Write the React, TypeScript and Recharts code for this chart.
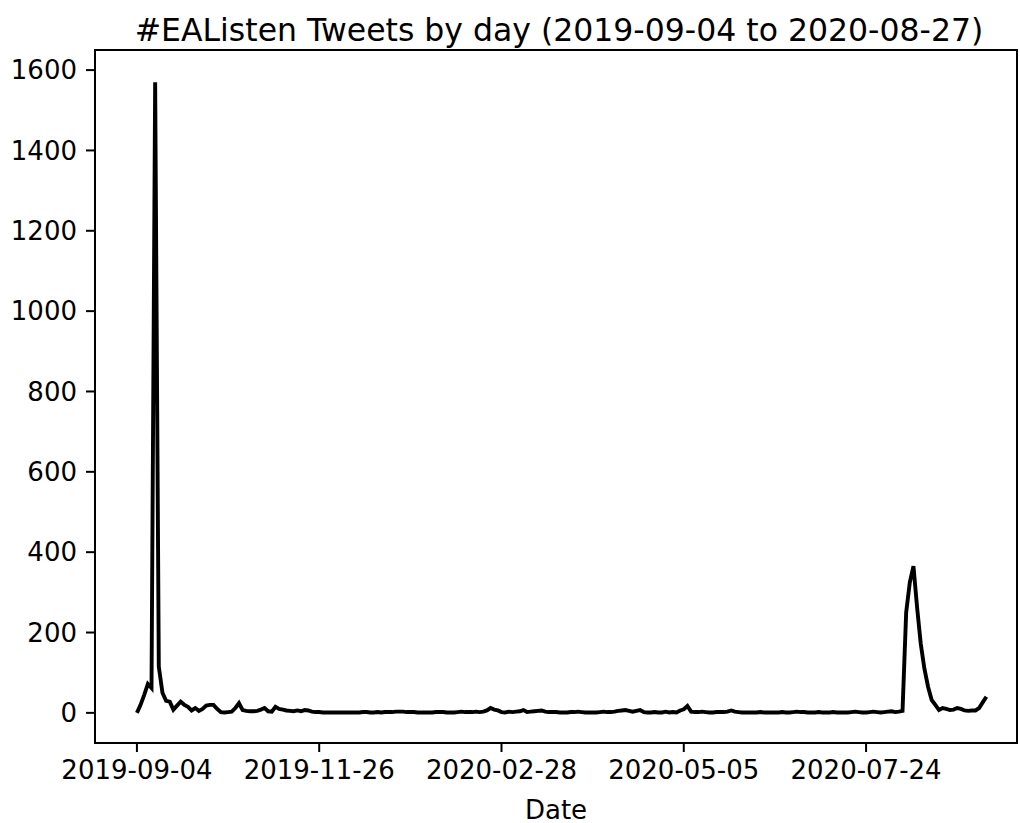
import { LineChart, Line, XAxis, YAxis } from 'recharts';

// tweets per day, one entry per recorded day (index along x)
const tweetCounts = [
  0, 20, 45, 72, 62, 1570, 115, 50, 30, 28,
  8, 18, 28, 20, 15, 6, 12, 5, 10, 18,
  20, 20, 10, 2, 1, 2, 3, 12, 24, 7,
  5, 4, 4, 5, 8, 12, 4, 3, 15, 10,
  8, 6, 5, 4, 6, 4, 7, 6, 3, 2,
  2, 1, 1, 1, 1, 1, 1, 1, 1, 1,
  1, 1, 2, 2, 1, 1, 2, 1, 2, 2,
  2, 3, 3, 3, 2, 2, 2, 1, 1, 1,
  1, 1, 2, 2, 2, 1, 1, 1, 2, 3,
  2, 2, 2, 3, 2, 3, 6, 12, 8, 6,
  2, 1, 3, 2, 3, 4, 7, 2, 3, 4,
  5, 6, 3, 2, 2, 2, 1, 1, 1, 2,
  2, 3, 2, 1, 1, 1, 1, 2, 3, 2,
  2, 3, 5, 6, 7, 5, 3, 5, 7, 2,
  1, 1, 2, 1, 1, 3, 1, 2, 1, 6,
  9, 17, 3, 2, 2, 3, 2, 1, 1, 2,
  2, 2, 3, 6, 3, 2, 1, 1, 1, 1,
  1, 2, 1, 1, 1, 1, 1, 2, 1, 1,
  2, 3, 2, 2, 1, 1, 1, 2, 1, 1,
  1, 2, 1, 1, 1, 1, 2, 3, 2, 1,
  1, 2, 3, 2, 1, 2, 3, 4, 2, 3,
  5, 250, 325, 365, 262, 172, 110, 65, 32, 20,
  7, 12, 10, 7, 8, 12, 10, 6, 5, 6,
  6, 12, 26, 40,
];

const xTickPositions = [0, 50, 100, 150, 200];
const xTickLabels = ['2019-09-04', '2019-11-26', '2020-02-28', '2020-05-05', '2020-07-24'];
const yTicks = [0, 200, 400, 600, 800, 1000, 1200, 1400, 1600];

const FONT = '"DejaVu Sans", sans-serif';

export default function App() {
  const data = tweetCounts.map((count, i) => ({ idx: i, count }));

  const tickStyle = { fill: '#000', fontSize: 26, fontFamily: FONT };

  return (
    <div style={{ position: 'absolute', left: 0, top: 0, width: 1020, height: 823, background: '#fff' }}>
      <div
        style={{
          position: 'absolute',
          left: 98,
          width: 922,
          top: 12,
          textAlign: 'center',
          fontFamily: FONT,
          fontSize: 31.5,
          color: '#000',
          whiteSpace: 'nowrap',
        }}
      >
        #EAListen Tweets by day (2019-09-04 to 2020-08-27)
      </div>
      <LineChart
        width={1020}
        height={823}
        data={data}
        margin={{ top: 50, right: 3, bottom: 0, left: 15 }}
      >
        <XAxis
          dataKey="idx"
          type="number"
          domain={[-11.5, 241.4]}
          allowDataOverflow
          ticks={xTickPositions}
          tickFormatter={(v: number) => xTickLabels[xTickPositions.indexOf(v)] ?? ''}
          height={80}
          tickSize={9}
          tickMargin={9}
          tick={tickStyle}
          axisLine={false}
          tickLine={{ stroke: '#000', strokeWidth: 2 }}
        />
        <YAxis
          type="number"
          domain={[-75, 1650]}
          allowDataOverflow
          ticks={yTicks}
          width={80}
          tickSize={9}
          tickMargin={9}
          tick={tickStyle}
          axisLine={false}
          tickLine={{ stroke: '#000', strokeWidth: 2 }}
        />
        <Line
          type="linear"
          dataKey="count"
          stroke="#000"
          strokeWidth={3.9}
          dot={false}
          activeDot={false}
          isAnimationActive={false}
        />
      </LineChart>
      {/* axes frame (all four spines) */}
      <div
        style={{
          position: 'absolute',
          left: 94,
          top: 49,
          width: 924,
          height: 695,
          boxSizing: 'border-box',
          border: '2px solid #000',
          pointerEvents: 'none',
        }}
      />
      <div
        style={{
          position: 'absolute',
          left: 95,
          width: 922,
          top: 795,
          textAlign: 'center',
          fontFamily: FONT,
          fontSize: 26,
          color: '#000',
        }}
      >
        Date
      </div>
    </div>
  );
}
